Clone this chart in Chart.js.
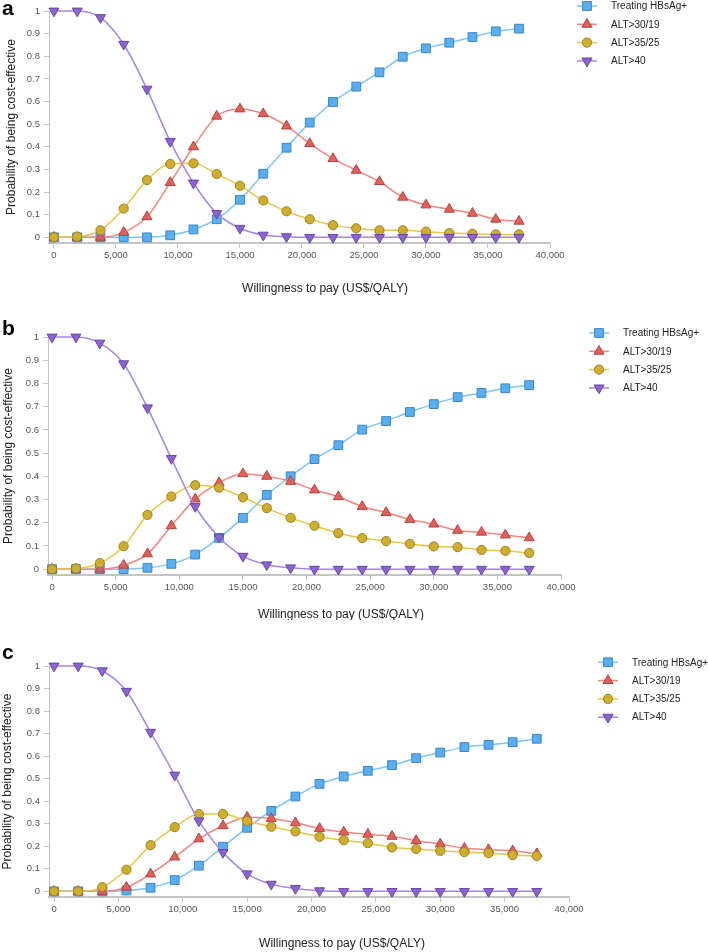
<!DOCTYPE html>
<html>
<head>
<meta charset="utf-8">
<script src="https://cdn.jsdelivr.net/npm/chart.js@4.4.1/dist/chart.umd.min.js"></script>
<style>
  html, body { margin: 0; padding: 0; background: #fff; }
  #wrap { position: relative; width: 708px; height: 952px; }
  canvas { position: absolute; left: 0; }
</style>
</head>
<body>
<div id="wrap">
  <canvas id="panelA" width="708" height="300" style="top:0px"></canvas>
  <canvas id="panelB" width="708" height="320" style="top:300px"></canvas>
  <canvas id="panelC" width="708" height="332" style="top:620px"></canvas>
</div>
<script>
// willingness to pay thresholds (x values)
const WTP = [0, 1875, 3750, 5625, 7500, 9375, 11250, 13125, 15000, 16875, 18750,
  20625, 22500, 24375, 26250, 28125, 30000, 31875, 33750, 35625, 37500];

const SERIES = ['Treating HBsAg+', 'ALT>30/19', 'ALT>35/25', 'ALT>40'];

const X_TICKS = [0, 5000, 10000, 15000, 20000, 25000, 30000, 35000, 40000];
const Y_TICKS = [0, 0.1, 0.2, 0.3, 0.4, 0.5, 0.6, 0.7, 0.8, 0.9, 1];

const X_TITLE = 'Willingness to pay (US$/QALY)';
const Y_TITLE = 'Probability of being cost-effective';

// panel a
const A_HBSAG   = [0, 0, 0, 0, 0, 0.009, 0.035, 0.08, 0.166, 0.281, 0.396, 0.507, 0.598, 0.666, 0.729, 0.798, 0.835, 0.86, 0.885, 0.91, 0.922];
const A_ALT3019 = [0, 0, 0, 0.022, 0.091, 0.242, 0.40, 0.535, 0.567, 0.546, 0.492, 0.414, 0.348, 0.296, 0.246, 0.177, 0.143, 0.124, 0.106, 0.08, 0.071];
const A_ALT3525 = [0, 0.003, 0.031, 0.127, 0.253, 0.324, 0.327, 0.28, 0.228, 0.163, 0.115, 0.08, 0.054, 0.04, 0.031, 0.031, 0.025, 0.019, 0.016, 0.013, 0.013];
const A_ALT40   = [1, 1, 0.971, 0.853, 0.655, 0.424, 0.24, 0.106, 0.04, 0.01, 0.003, 0, 0, 0, 0, 0, 0, 0, 0, 0, 0];

// panel b
const B_HBSAG   = [0, 0, 0, 0, 0.006, 0.023, 0.063, 0.135, 0.221, 0.32, 0.4, 0.474, 0.534, 0.601, 0.638, 0.677, 0.711, 0.741, 0.759, 0.779, 0.793];
const B_ALT3019 = [0, 0, 0, 0.017, 0.066, 0.187, 0.302, 0.372, 0.411, 0.4, 0.378, 0.341, 0.312, 0.27, 0.244, 0.214, 0.194, 0.167, 0.159, 0.147, 0.135];
const B_ALT3525 = [0, 0.003, 0.026, 0.099, 0.234, 0.313, 0.362, 0.351, 0.31, 0.263, 0.221, 0.187, 0.155, 0.134, 0.121, 0.109, 0.098, 0.095, 0.083, 0.079, 0.07];
const B_ALT40   = [1, 1, 0.974, 0.885, 0.695, 0.477, 0.27, 0.138, 0.056, 0.019, 0.006, 0, 0, 0, 0, 0, 0, 0, 0, 0, 0];

// panel c
const C_HBSAG   = [0, 0, 0, 0.004, 0.016, 0.05, 0.114, 0.198, 0.282, 0.357, 0.421, 0.477, 0.51, 0.535, 0.56, 0.591, 0.616, 0.64, 0.65, 0.662, 0.677];
const C_ALT3019 = [0, 0, 0, 0.018, 0.077, 0.152, 0.233, 0.291, 0.329, 0.323, 0.304, 0.279, 0.263, 0.253, 0.244, 0.225, 0.21, 0.191, 0.185, 0.18, 0.167];
const C_ALT3525 = [0, 0, 0.019, 0.096, 0.205, 0.285, 0.343, 0.343, 0.312, 0.287, 0.266, 0.242, 0.227, 0.214, 0.195, 0.188, 0.18, 0.174, 0.17, 0.161, 0.157];
const C_ALT40   = [1, 1, 0.979, 0.888, 0.706, 0.516, 0.313, 0.173, 0.078, 0.032, 0.013, 0.003, 0, 0, 0, 0, 0, 0, 0, 0, 0];

const FONT = '"Liberation Sans", Arial, sans-serif';
Chart.defaults.font.family = FONT;

// line colour, marker fill, marker border, marker shape
const STYLES = [
  {line: '#7ec4f5', fill: '#5aaef0', edge: '#3a86c8', shape: 'rect', rot: 0, r: 6.2},
  {line: '#f3847e', fill: '#e0605c', edge: '#b4423e', shape: 'triangle', rot: 0, r: 5.8},
  {line: '#e6c64a', fill: '#cfae2d', edge: '#9b8222', shape: 'circle', rot: 0, r: 4.6},
  {line: '#a686e2', fill: '#8b64d0', edge: '#6847a8', shape: 'triangle', rot: 180, r: 5.8}
];

const panels = [
  {id: 'panelA', letter: 'a', values: [A_HBSAG, A_ALT3019, A_ALT3525, A_ALT40], h: 300,
   area: {left: 49, right: 550, top: 11, bottom: 243}, xMin: -400, yPad: 4,
   letterY: 15, titleX: 325, titleY: 289, legX: 587, textX: 611, legTop: 6},
  {id: 'panelB', letter: 'b', values: [B_HBSAG, B_ALT3019, B_ALT3525, B_ALT40], h: 320,
   area: {left: 48, right: 561, top: 37, bottom: 275}, xMin: -320, yPad: 1,
   letterY: 35, titleX: 341, titleY: 315, legX: 599, textX: 623, legTop: 33},
  {id: 'panelC', letter: 'c', values: [C_HBSAG, C_ALT3019, C_ALT3525, C_ALT40], h: 332,
   area: {left: 49, right: 569, top: 46, bottom: 277}, xMin: -390, yPad: 0,
   letterY: 39, titleX: 342, titleY: 324, legX: 608, textX: 632, legTop: 42.3}
];

// white background, panel letter, x title and line+marker legend
const decor = {
  id: 'decor',
  beforeDraw(chart) {
    const c = chart.ctx;
    c.save();
    c.fillStyle = '#fff';
    c.fillRect(0, 0, chart.width, chart.height);
    c.restore();
  },
  afterDraw(chart, args, o) {
    const c = chart.ctx;
    c.save();
    c.fillStyle = '#000';
    c.font = 'bold 21px ' + FONT;
    c.textAlign = 'left';
    c.textBaseline = 'alphabetic';
    c.fillText(o.letter, 2, o.letterY);

    c.fillStyle = '#222';
    c.font = '12px ' + FONT;
    c.textAlign = 'center';
    c.textBaseline = 'middle';
    c.fillText(X_TITLE, o.titleX, o.titleY);

    c.font = '10px ' + FONT;
    c.textAlign = 'left';
    chart.data.datasets.forEach((ds, i) => {
      const y = o.legTop + i * 18.3;
      c.strokeStyle = ds.borderColor;
      c.lineWidth = 1.5;
      c.beginPath();
      c.moveTo(o.legX - 10, y);
      c.lineTo(o.legX + 10, y);
      c.stroke();
      c.fillStyle = ds.pointBackgroundColor;
      c.strokeStyle = ds.pointBorderColor;
      c.lineWidth = ds.pointBorderWidth;
      Chart.helpers.drawPoint(c, {pointStyle: ds.pointStyle, rotation: ds.pointRotation,
        radius: ds.pointRadius, borderWidth: ds.pointBorderWidth}, o.legX, y);
      c.fillStyle = '#222';
      c.fillText(ds.label, o.textX, y + 0.5);
    });
    c.restore();
  }
};

panels.forEach(p => {
  const datasets = SERIES.map((name, i) => {
    const s = STYLES[i];
    return {
      label: name,
      data: WTP.map((x, k) => ({x: x, y: p.values[i][k]})),
      borderColor: s.line,
      borderWidth: 1.5,
      pointStyle: s.shape,
      pointRotation: s.rot,
      pointRadius: s.r,
      pointBackgroundColor: s.fill,
      pointBorderColor: s.edge,
      pointBorderWidth: 1,
      cubicInterpolationMode: 'monotone',
      clip: false,
      order: 3 - i
    };
  });

  new Chart(document.getElementById(p.id), {
    type: 'line',
    data: {datasets: datasets},
    options: {
      responsive: false,
      animation: false,
      devicePixelRatio: 1,
      layout: {padding: {left: 0, top: p.area.top, right: 708 - p.area.right, bottom: 0}},
      plugins: {
        legend: {display: false},
        tooltip: {enabled: false},
        decor: p
      },
      scales: {
        x: {
          type: 'linear',
          min: p.xMin,
          max: 40000,
          afterBuildTicks: s => { s.ticks = X_TICKS.map(v => ({value: v})); },
          afterFit: s => { s.height = p.h - p.area.bottom; },
          ticks: {
            color: '#555',
            font: {size: 9.5},
            padding: 2,
            maxRotation: 0,
            callback: v => v.toLocaleString('en-US')
          },
          grid: {drawOnChartArea: false, drawTicks: true, tickLength: 5, color: '#c4c4c4'},
          border: {display: true, color: '#c4c4c4', width: 2}
        },
        y: {
          min: -0.025,
          max: 1,
          afterBuildTicks: s => { s.ticks = Y_TICKS.map(v => ({value: v})); },
          afterFit: s => { s.width = p.area.left; },
          ticks: {
            color: '#555',
            font: {size: 9.5},
            padding: 4,
            callback: v => String(+v.toFixed(1))
          },
          grid: {drawOnChartArea: false, drawTicks: true, tickLength: 5, color: '#c4c4c4'},
          border: {display: true, color: '#c4c4c4', width: 1},
          title: {
            display: true,
            text: Y_TITLE,
            color: '#222',
            font: {size: 12},
            padding: {top: p.yPad, bottom: 0}
          }
        }
      }
    },
    plugins: [decor]
  });
});
</script>
</body>
</html>
